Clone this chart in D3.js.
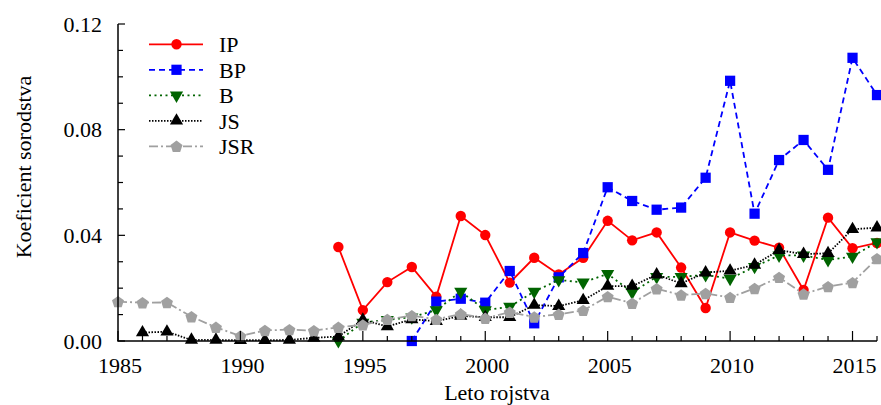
<!DOCTYPE html>
<html><head><meta charset="utf-8">
<script src="https://cdn.jsdelivr.net/npm/d3@7"></script>
<style>body{margin:0;background:#fff}</style>
</head><body><svg id="c" width="881" height="405"></svg>
<script>
const years = d3.range(1985, 2017);
const seriesNames = ["IP","BP","B","JS","JSR"];
// values per year 1985..2016 (null = no value)
const IP  = [null,null,null,null,null,null,null,null,null,0.0356,0.0117,0.0223,0.0280,0.0168,0.0473,0.0401,0.0221,0.0315,0.0252,0.0315,0.0455,0.0381,0.0411,0.0278,0.0125,0.0411,0.0380,0.0353,0.0193,0.0467,0.0351,0.0371];
const BP  = [null,null,null,null,null,null,null,null,null,null,null,null,0.0000,0.0149,0.0160,0.0145,0.0265,0.0067,0.0241,0.0333,0.0582,0.0530,0.0497,0.0505,0.0618,0.0985,0.0482,0.0685,0.0761,0.0648,0.1072,0.0931];
const B   = [null,null,null,null,null,null,null,null,null,0.0000,0.0070,0.0080,0.0090,0.0117,0.0187,0.0117,0.0130,0.0187,0.0231,0.0222,0.0254,0.0184,0.0243,0.0243,0.0250,0.0236,0.0281,0.0324,0.0324,0.0307,0.0320,0.0375];
const JS  = [null,0.0032,0.0035,0.0004,0.0004,0.0003,0.0003,0.0004,0.0012,0.0017,0.0080,0.0055,0.0082,0.0075,0.0095,0.0090,0.0090,0.0136,0.0132,0.0154,0.0208,0.0208,0.0251,0.0218,0.0259,0.0266,0.0288,0.0344,0.0329,0.0332,0.0423,0.0429];
const JSR = [0.0149,0.0145,0.0146,0.0092,0.0052,0.0019,0.0040,0.0043,0.0039,0.0052,0.0061,0.0082,0.0096,0.0082,0.0102,0.0086,0.0109,0.0091,0.0101,0.0116,0.0168,0.0143,0.0198,0.0174,0.0180,0.0165,0.0199,0.0241,0.0178,0.0206,0.0221,0.0312];
const yTickLabels = ["0.00","0.04","0.08","0.12"];
const xTickLabels = ["1985","1990","1995","2000","2005","2010","2015"];

const svg = d3.select("#c");
const x = d3.scaleLinear().domain([1985, 2016]).range([118, 877]);
const y = d3.scaleLinear().domain([0, 0.12]).range([341, 24]);

const styles = {
  IP:  {color:"#ff0000", dash:null, sym:"circle"},
  BP:  {color:"#0000ff", dash:"6,4", sym:"square"},
  B:   {color:"#006400", dash:"2,3.5", sym:"down"},
  JS:  {color:"#000000", dash:"1.5,1.5", sym:"up"},
  JSR: {color:"#a0a0a0", dash:"9,3,2,3", sym:"pent"}
};
const data = {IP, BP, B, JS, JSR};

function symPath(s){
  if(s==="circle") return d3.symbol(d3.symbolCircle, 85)();
  if(s==="square") return d3.symbol(d3.symbolSquare, 105)();
  if(s==="up") return d3.symbol(d3.symbolTriangle, 75)();
  if(s==="down") return d3.symbol(d3.symbolTriangle, 75)();
  if(s==="pent"){
    const r=6.3; const pts=d3.range(5).map(i=>{const a=-Math.PI/2+i*2*Math.PI/5;return [r*Math.cos(a), r*Math.sin(a)+0.6];});
    return "M"+pts.map(p=>p.join(",")).join("L")+"Z";
  }
}
function symTransform(s, px, py){
  return s==="down" ? `translate(${px},${py}) rotate(180)` : `translate(${px},${py})`;
}

// series
seriesNames.forEach(name=>{
  const st = styles[name];
  const pts = years.map((yr,i)=>({yr, v:data[name][i]})).filter(d=>d.v!==null);
  const line = d3.line().x(d=>x(d.yr)).y(d=>y(d.v));
  svg.append("path").datum(pts).attr("d", line).attr("fill","none")
    .attr("stroke", st.color).attr("stroke-width", 1.8)
    .attr("stroke-dasharray", st.dash);
  svg.append("g").selectAll("path").data(pts).join("path")
    .attr("d", symPath(st.sym)).attr("transform", d=>symTransform(st.sym, x(d.yr), y(d.v)))
    .attr("fill", st.color);
});

// axes
const ax = svg.append("g").attr("stroke","#000");
ax.append("line").attr("x1",118).attr("x2",118).attr("y1",y(0.12)).attr("y2",y(0)).attr("stroke-width",1.5);
ax.append("line").attr("x1",117.25).attr("x2",x(2016)).attr("y1",y(0)).attr("y2",y(0)).attr("stroke-width",1.5);
d3.range(0, 13).forEach(i=>{
  const v = i*0.01; const major = i%4===0;
  ax.append("line").attr("x1",118).attr("x2",118+(major?7:5)).attr("y1",y(v)).attr("y2",y(v)).attr("stroke-width",1.2);
});
years.forEach(yr=>{
  const major = yr%5===0;
  ax.append("line").attr("x1",x(yr)).attr("x2",x(yr)).attr("y1",y(0)).attr("y2",y(0)-(major?10:5)).attr("stroke-width",1.2);
});
const T = (sel)=>sel.attr("font-family","serif").attr("font-size",22)
  .attr("style","font-family: 'Liberation Serif', Tinos, serif; font-size: 22px; fill: #000;");
const tg = svg.append("g");
yTickLabels.forEach(t=>{
  T(tg.append("text")).attr("x",102).attr("y",y(+t)+7.5).attr("text-anchor","end").text(t);
});
xTickLabels.forEach((t,i)=>{
  T(tg.append("text")).attr("x",x(+t)+2).attr("y",373).attr("text-anchor","middle").text(t);
});
T(tg.append("text")).attr("transform","translate(31,167) rotate(-90)").attr("text-anchor","middle").text("Koeficient sorodstva");
T(tg.append("text")).attr("x",497).attr("y",400).attr("text-anchor","middle").text("Leto rojstva");

// legend
seriesNames.forEach((name,i)=>{
  const st = styles[name]; const ly = 44.3 + i*25.5;
  svg.append("line").attr("x1",149).attr("x2",203).attr("y1",ly).attr("y2",ly)
    .attr("stroke",st.color).attr("stroke-width",1.8).attr("stroke-dasharray",st.dash);
  svg.append("path").attr("d",symPath(st.sym)).attr("transform",symTransform(st.sym,176.5,ly)).attr("fill",st.color);
  T(tg.append("text")).attr("x",219).attr("y",ly+7.8).text(name);
});
</script></body></html>
